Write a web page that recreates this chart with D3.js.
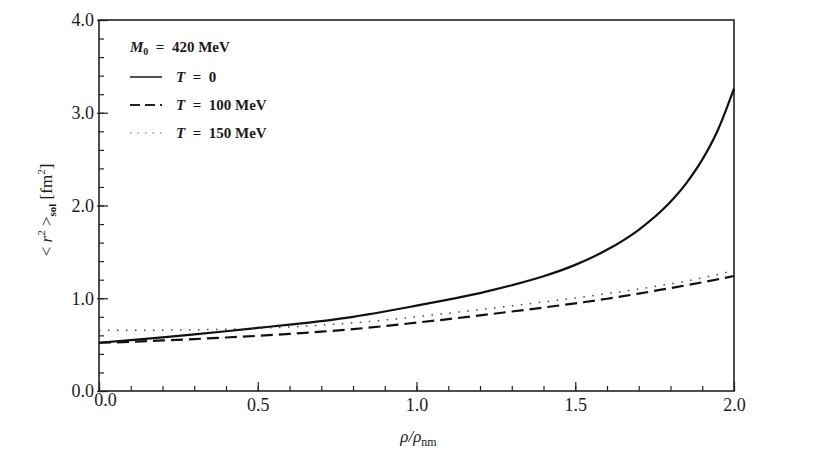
<!DOCTYPE html>
<html lang="en">
<head>
    <meta charset="utf-8">
    <title>r2 vs density</title>
    <script type="text/javascript" src="https://cdnjs.cloudflare.com/ajax/libs/d3/7.8.5/d3.min.js"></script>
    <style>
      body { margin: 0; background: #fff; }
      text { font-family: "Liberation Serif", "DejaVu Serif", serif; fill: #1a1a1a; }
    </style>
</head>
<body>
    <script type="text/javascript">
      //data
      var rho = [0, 0.1, 0.2, 0.3, 0.4, 0.5, 0.6, 0.7, 0.8, 0.9, 1.0, 1.1, 1.2,
                 1.3, 1.4, 1.5, 1.6, 1.7, 1.8, 1.85, 1.9, 1.95, 2.0];
      var r2T0 = [0.52, 0.548, 0.578, 0.61, 0.644, 0.68, 0.716, 0.754, 0.80, 0.857, 0.92, 0.985, 1.055,
                  1.14, 1.237, 1.36, 1.522, 1.738, 2.04, 2.242, 2.494, 2.82, 3.26];
      var r2T100 = [0.52, 0.53, 0.545, 0.56, 0.577, 0.595, 0.616, 0.64, 0.667, 0.70, 0.737, 0.775, 0.815,
                    0.857, 0.90, 0.945, 0.995, 1.05, 1.11, 1.14, 1.172, 1.205, 1.24];
      var r2T150 = [0.655, 0.655, 0.657, 0.66, 0.666, 0.676, 0.69, 0.71, 0.735, 0.765, 0.80, 0.838, 0.878,
                    0.918, 0.96, 1.003, 1.05, 1.10, 1.155, 1.185, 1.22, 1.258, 1.30];
      var xTicks = [0, 0.5, 1.0, 1.5, 2.0];
      var yTicks = [0, 1, 2, 3, 4];
      var legendLabels = ["T = 0", "T = 100 MeV", "T = 150 MeV"];

      //dimensions
      var margin = {top: 20, right: 79, bottom: 63, left: 99},
          fullWidth = 813, fullHeight = 454,
          width = fullWidth - margin.left - margin.right,
          height = fullHeight - margin.top - margin.bottom;

      var xScale = d3.scaleLinear().domain([0, 2]).range([0, width]);
      var yScale = d3.scaleLinear().domain([0, 4]).range([height, 0]);

      var svg = d3.select("body")
                  .append("svg")
                  .attr("width", fullWidth)
                  .attr("height", fullHeight);

      var g = svg.append("g")
                 .attr("transform", "translate(" + margin.left + "," + margin.top + ")");

      //minor ticks
      g.append("g")
       .attr("transform", "translate(0," + height + ")")
       .call(d3.axisBottom(xScale).tickValues(d3.range(0, 2.001, 0.1)).tickSize(-5).tickFormat(""))
       .call(function(a) { a.select(".domain").remove(); });
      g.append("g")
       .call(d3.axisLeft(yScale).tickValues(d3.range(0, 4.001, 0.2)).tickSize(-5).tickFormat(""))
       .call(function(a) { a.select(".domain").remove(); });

      //major ticks with labels
      var xAxis = g.append("g")
                   .attr("transform", "translate(0," + height + ")")
                   .call(d3.axisBottom(xScale).tickValues(xTicks).tickSizeInner(-9).tickSizeOuter(0)
                            .tickPadding(7).tickFormat(d3.format(".1f")));
      xAxis.select(".domain").remove();
      xAxis.selectAll("text").attr("font-size", 18).attr("font-family", "Liberation Serif");
      xAxis.selectAll(".tick").filter(function(d) { return d === 0; })
           .select("text").attr("dx", 6).attr("dy", "0.45em");

      var yAxis = g.append("g")
                   .call(d3.axisLeft(yScale).tickValues(yTicks).tickSizeInner(-9).tickSizeOuter(0)
                            .tickPadding(5).tickFormat(d3.format(".1f")));
      yAxis.select(".domain").remove();
      yAxis.selectAll("text").attr("font-size", 18).attr("font-family", "Liberation Serif");
      yAxis.selectAll(".tick line").attr("x1", -2);

      g.selectAll(".tick line").attr("stroke", "#222").attr("stroke-width", 1.2);

      //frame
      g.append("rect")
       .attr("width", width)
       .attr("height", height)
       .attr("fill", "none")
       .attr("stroke", "#222")
       .attr("stroke-width", 1.6);

      //curves
      var line = d3.line()
                   .x(function(d, i) { return xScale(rho[i]); })
                   .y(function(d) { return yScale(d); })
                   .curve(d3.curveMonotoneX);

      g.append("path").attr("d", line(r2T0))
       .attr("fill", "none").attr("stroke", "#111").attr("stroke-width", 2.2);
      g.append("path").attr("d", line(r2T100))
       .attr("fill", "none").attr("stroke", "#111").attr("stroke-width", 2.2)
       .attr("stroke-dasharray", "12,6");
      g.append("path").attr("d", line(r2T150))
       .attr("fill", "none").attr("stroke", "#444").attr("stroke-width", 1.5)
       .attr("stroke-dasharray", "1.5,7.5");

      //legend
      var lg = g.append("g").attr("transform", "translate(31,0)");
      var title = lg.append("text").attr("x", 0).attr("y", 32).attr("font-size", 15)
                    .attr("font-weight", "bold");
      title.append("tspan").attr("font-style", "italic").text("M");
      title.append("tspan").attr("font-size", 10).attr("dy", 3).text("0");
      title.append("tspan").attr("dy", -3).attr("xml:space", "preserve").text("  =  420 MeV");

      var styles = [
        {dash: null, w: 1.6, c: "#222"},
        {dash: "10,5", w: 1.8, c: "#222"},
        {dash: "1.5,6", w: 1.2, c: "#666"}
      ];
      legendLabels.forEach(function(lab, i) {
        var y = 57 + i * 28;
        lg.append("line").attr("x1", 0).attr("x2", 32).attr("y1", y).attr("y2", y)
          .attr("stroke", styles[i].c).attr("stroke-width", styles[i].w)
          .attr("stroke-dasharray", styles[i].dash);
        var t = lg.append("text").attr("x", 46).attr("y", y + 5).attr("font-size", 15)
                  .attr("font-weight", "bold");
        t.append("tspan").attr("font-style", "italic").text("T");
        t.append("tspan").attr("xml:space", "preserve").text(lab.slice(1).replace("=", " = "));
      });

      //x axis title
      var xt = svg.append("text")
                  .attr("x", margin.left + width / 2 + 2)
                  .attr("y", 442)
                  .attr("text-anchor", "middle")
                  .attr("font-size", 17);
      xt.append("tspan").attr("font-style", "italic").text("ρ/ρ");
      xt.append("tspan").attr("font-size", 12).attr("dy", 4).text("nm");

      //y axis title
      var yt = svg.append("text")
                  .attr("transform", "translate(52,210) rotate(-90)")
                  .attr("text-anchor", "middle")
                  .attr("font-size", 17);
      yt.append("tspan").text("< ");
      yt.append("tspan").attr("font-style", "italic").text("r");
      yt.append("tspan").attr("font-size", 11).attr("dy", -7).text("2");
      yt.append("tspan").attr("dy", 7).text(" >");
      yt.append("tspan").attr("font-size", 11).attr("dy", 4).attr("font-weight", "bold").text("sol");
      yt.append("tspan").attr("dy", -4).text(" [fm");
      yt.append("tspan").attr("font-size", 11).attr("dy", -7).text("2");
      yt.append("tspan").attr("dy", 7).text("]");
    </script>
</body>
</html>
